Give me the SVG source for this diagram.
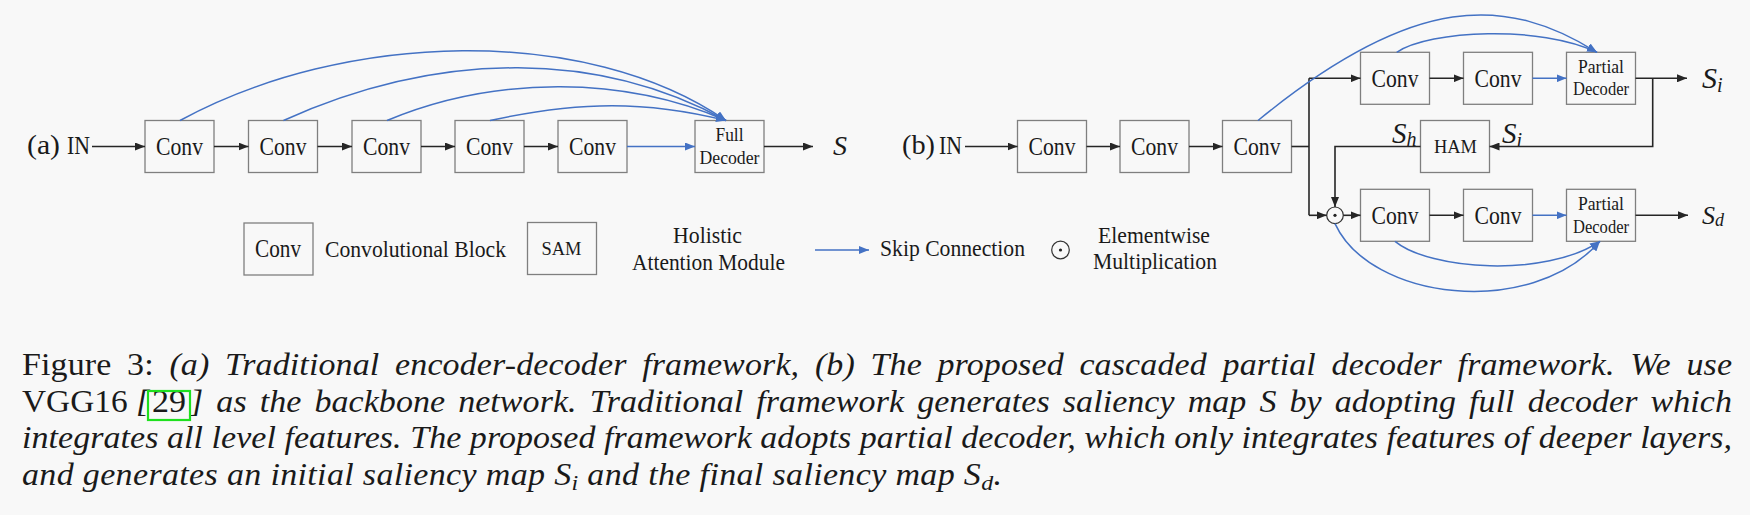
<svg xmlns="http://www.w3.org/2000/svg" width="1750" height="515" viewBox="0 0 1750 515" font-family="Liberation Serif, Times New Roman, serif">
<style>
.box{fill:none;stroke:#7f7f7f;stroke-width:1.3}
.ln{fill:none;stroke:#262626;stroke-width:1.6}
.bl{fill:none;stroke:#4472c4;stroke-width:1.5}
.t{font-family:'Liberation Serif','Times New Roman',Times,serif;fill:#1a1a1a}
.i{font-style:italic}
.cv{font-size:26px}
.pd{font-size:19px}
.lg{font-size:23px}
.cap{font-size:34px}
</style>
<defs>
<marker id="ak" viewBox="0 0 10 8" refX="10" refY="4" markerWidth="10" markerHeight="8" markerUnits="userSpaceOnUse" orient="auto"><path d="M0,0 L10,4 L0,8 z" fill="#262626"/></marker>
<marker id="ab" viewBox="0 0 10 8" refX="10" refY="4" markerWidth="10" markerHeight="8" markerUnits="userSpaceOnUse" orient="auto"><path d="M0,0 L10,4 L0,8 z" fill="#4472c4"/></marker>
</defs>
<rect x="0" y="0" width="1750" height="515" fill="#f8f8f8"/>

<!-- (a) -->
<text class="t" x="27" y="154" font-size="27" textLength="33" lengthAdjust="spacingAndGlyphs">(a)</text>
<text class="t" x="67" y="154" font-size="25" textLength="23" lengthAdjust="spacingAndGlyphs">IN</text>
<g id="a-conv1"><rect class="box" x="145" y="120.5" width="69" height="52"/><text class="t cv" x="156" y="155" textLength="47" lengthAdjust="spacingAndGlyphs">Conv</text></g>
<g id="a-conv2"><rect class="box" x="248.5" y="120.5" width="69" height="52"/><text class="t cv" x="259.5" y="155" textLength="47" lengthAdjust="spacingAndGlyphs">Conv</text></g>
<g id="a-conv3"><rect class="box" x="352" y="120.5" width="69" height="52"/><text class="t cv" x="363" y="155" textLength="47" lengthAdjust="spacingAndGlyphs">Conv</text></g>
<g id="a-conv4"><rect class="box" x="455" y="120.5" width="69" height="52"/><text class="t cv" x="466" y="155" textLength="47" lengthAdjust="spacingAndGlyphs">Conv</text></g>
<g id="a-conv5"><rect class="box" x="558" y="120.5" width="69" height="52"/><text class="t cv" x="569" y="155" textLength="47" lengthAdjust="spacingAndGlyphs">Conv</text></g>
<g id="a-fulldecoder"><rect class="box" x="695" y="120.5" width="69" height="52"/>
<text class="t pd" x="715.5" y="140.7" textLength="28" lengthAdjust="spacingAndGlyphs">Full</text>
<text class="t pd" x="699.5" y="164" textLength="60" lengthAdjust="spacingAndGlyphs">Decoder</text></g>
<text class="t i" x="833" y="155" font-size="28">S</text>

<!-- (b) -->
<text class="t" x="902" y="154" font-size="27" textLength="33" lengthAdjust="spacingAndGlyphs">(b)</text>
<text class="t" x="939" y="154" font-size="25" textLength="23" lengthAdjust="spacingAndGlyphs">IN</text>
<g id="b-conv1"><rect class="box" x="1017.5" y="120.5" width="69" height="52"/><text class="t cv" x="1028.5" y="155" textLength="47" lengthAdjust="spacingAndGlyphs">Conv</text></g>
<g id="b-conv2"><rect class="box" x="1120" y="120.5" width="69" height="52"/><text class="t cv" x="1131" y="155" textLength="47" lengthAdjust="spacingAndGlyphs">Conv</text></g>
<g id="b-conv3"><rect class="box" x="1222.5" y="120.5" width="69" height="52"/><text class="t cv" x="1233.5" y="155" textLength="47" lengthAdjust="spacingAndGlyphs">Conv</text></g>
<g id="b-conv4"><rect class="box" x="1360.5" y="52.3" width="69" height="52"/><text class="t cv" x="1371.5" y="86.8" textLength="47" lengthAdjust="spacingAndGlyphs">Conv</text></g>
<g id="b-conv5"><rect class="box" x="1463.5" y="52.3" width="69" height="52"/><text class="t cv" x="1474.5" y="86.8" textLength="47" lengthAdjust="spacingAndGlyphs">Conv</text></g>
<g id="b-pd1"><rect class="box" x="1566.5" y="52.3" width="69" height="52"/>
<text class="t pd" x="1578" y="72.7" textLength="46" lengthAdjust="spacingAndGlyphs">Partial</text>
<text class="t pd" x="1573" y="95" textLength="56" lengthAdjust="spacingAndGlyphs">Decoder</text></g>
<g id="b-ham"><rect class="box" x="1420.5" y="120.5" width="69" height="52"/><text class="t" x="1434" y="153" font-size="19" textLength="43" lengthAdjust="spacingAndGlyphs">HAM</text></g>
<g id="b-mult"><circle cx="1335" cy="215.3" r="8.3" fill="none" stroke="#333" stroke-width="1.2"/><circle cx="1335" cy="215.3" r="1.6" fill="#222"/></g>
<g id="b-conv6"><rect class="box" x="1360.5" y="189.3" width="69" height="52"/><text class="t cv" x="1371.5" y="223.8" textLength="47" lengthAdjust="spacingAndGlyphs">Conv</text></g>
<g id="b-conv7"><rect class="box" x="1463.5" y="189.3" width="69" height="52"/><text class="t cv" x="1474.5" y="223.8" textLength="47" lengthAdjust="spacingAndGlyphs">Conv</text></g>
<g id="b-pd2"><rect class="box" x="1566.5" y="189.3" width="69" height="52"/>
<text class="t pd" x="1578" y="210" textLength="46" lengthAdjust="spacingAndGlyphs">Partial</text>
<text class="t pd" x="1573" y="232.5" textLength="56" lengthAdjust="spacingAndGlyphs">Decoder</text></g>
<text class="t i" x="1702" y="88" font-size="30">S<tspan font-size="20" dy="4">i</tspan></text>
<text class="t i" x="1502" y="143" font-size="29">S<tspan font-size="20" dy="4">i</tspan></text>
<text class="t i" x="1392" y="143" font-size="29">S<tspan font-size="20" dy="3">h</tspan></text>
<text class="t i" x="1702" y="224" font-size="26">S<tspan font-size="18" dy="2">d</tspan></text>

<!-- connectors -->
<g id="connectors">
<path class="ln" d="M92,146.5 H145" marker-end="url(#ak)"/>
<path class="ln" d="M214,146.5 H248.5" marker-end="url(#ak)"/>
<path class="ln" d="M317.5,146.5 H352" marker-end="url(#ak)"/>
<path class="ln" d="M421,146.5 H455" marker-end="url(#ak)"/>
<path class="ln" d="M524,146.5 H558" marker-end="url(#ak)"/>
<path class="bl" d="M627,146.5 H695" marker-end="url(#ab)"/>
<path class="ln" d="M764,146.5 H813" marker-end="url(#ak)"/>
<path class="bl" d="M180,120.5 C345,30.8 586,24.1 726,120.5" marker-end="url(#ab)"/>
<path class="bl" d="M283.5,120.5 C443.5,48.7 601,51.9 726,120.5" marker-end="url(#ab)"/>
<path class="bl" d="M387,120.5 C497,74.5 626,76.7 726,120.5" marker-end="url(#ab)"/>
<path class="bl" d="M490,120.5 C580,100.9 646,100.7 726,120.5" marker-end="url(#ab)"/>

<path class="ln" d="M965,146.5 H1017.5" marker-end="url(#ak)"/>
<path class="ln" d="M1086.5,146.5 H1120" marker-end="url(#ak)"/>
<path class="ln" d="M1189,146.5 H1222.5" marker-end="url(#ak)"/>
<path class="ln" d="M1291.5,146.5 H1309"/>
<path class="ln" d="M1309,78.3 V215.3"/>
<path class="ln" d="M1309,78.3 H1360.5" marker-end="url(#ak)"/>
<path class="ln" d="M1309,215.3 H1326.7" marker-end="url(#ak)"/>
<path class="ln" d="M1343.3,215.3 H1360.5" marker-end="url(#ak)"/>
<path class="ln" d="M1429.5,78.3 H1463.5" marker-end="url(#ak)"/>
<path class="bl" d="M1532.5,78.3 H1566.5" marker-end="url(#ab)"/>
<path class="ln" d="M1635.5,78.3 H1687" marker-end="url(#ak)"/>
<path class="ln" d="M1652.7,78.3 V146.5 H1489.5" marker-end="url(#ak)"/>
<path class="ln" d="M1420.5,146.5 H1335 V207" marker-end="url(#ak)"/>
<path class="ln" d="M1429.5,215.3 H1463.5" marker-end="url(#ak)"/>
<path class="bl" d="M1532.5,215.3 H1566.5" marker-end="url(#ab)"/>
<path class="ln" d="M1635.5,215.3 H1688" marker-end="url(#ak)"/>
<path class="bl" d="M1258,120.5 C1415,-8 1507,-4 1597,52.3" marker-end="url(#ab)"/>
<path class="bl" d="M1396.7,52.3 C1430,30 1540,25 1597,52.3" marker-end="url(#ab)"/>
<path class="bl" d="M1395,241.3 C1430,270 1545,278 1600,241.3" marker-end="url(#ab)"/>
<path class="bl" d="M1335,223.6 C1370,300 1530,320 1600,241.3" marker-end="url(#ab)"/>
</g>

<!-- legend -->
<g id="legend">
<rect class="box" x="244" y="223" width="69" height="52"/>
<text class="t" x="255" y="257" font-size="25" textLength="46" lengthAdjust="spacingAndGlyphs">Conv</text>
<text class="t" x="325" y="257" font-size="24" textLength="181" lengthAdjust="spacingAndGlyphs">Convolutional Block</text>
<rect class="box" x="527.5" y="222.5" width="69" height="52"/>
<text class="t" x="541.5" y="254.5" font-size="19" textLength="40" lengthAdjust="spacingAndGlyphs">SAM</text>
<text class="t lg" x="673" y="243" textLength="69" lengthAdjust="spacingAndGlyphs">Holistic</text>
<text class="t lg" x="632" y="270" textLength="153" lengthAdjust="spacingAndGlyphs">Attention Module</text>
<path class="bl" d="M815,250 H869" marker-end="url(#ab)"/>
<text class="t" x="880" y="256" font-size="24" textLength="145" lengthAdjust="spacingAndGlyphs">Skip Connection</text>
<circle cx="1060.5" cy="250" r="8.8" fill="none" stroke="#333" stroke-width="1.2"/>
<circle cx="1060.5" cy="250" r="1.6" fill="#222"/>
<text class="t lg" x="1098" y="243" textLength="112" lengthAdjust="spacingAndGlyphs">Elementwise</text>
<text class="t lg" x="1093" y="268.5" textLength="124" lengthAdjust="spacingAndGlyphs">Multiplication</text>
</g>

<!-- caption -->
<g id="caption" transform="scale(1,0.9)" font-family="Liberation Serif, serif">
<text class="t cap" x="22" y="416.7" word-spacing="7" textLength="1710" lengthAdjust="spacing">Figure 3: <tspan class="i">(a) Traditional encoder-decoder framework, (b) The proposed cascaded partial decoder framework. We use</tspan></text>
<text class="t cap" x="22" y="457.4" textLength="127" lengthAdjust="spacingAndGlyphs">VGG16 <tspan class="i">[</tspan></text>
<text class="t cap" x="152" y="457.4" textLength="34" lengthAdjust="spacingAndGlyphs">29</text>
<text class="t cap i" x="190" y="457.4" word-spacing="4.5" textLength="1542" lengthAdjust="spacing">] as the backbone network. Traditional framework generates saliency map S by adopting full decoder which</text>
<text class="t cap i" x="22" y="498.1" textLength="1710" lengthAdjust="spacing">integrates all level features. The proposed framework adopts partial decoder, which only integrates features of deeper layers,</text>
<text class="t cap i" x="22" y="538.9" textLength="980" lengthAdjust="spacing">and generates an initial saliency map S<tspan font-size="24" dy="6">i</tspan><tspan dy="-6"> and the final saliency map S</tspan><tspan font-size="24" dy="6">d</tspan><tspan dy="-6">.</tspan></text>
</g>
<rect x="148" y="391" width="42" height="29" fill="none" stroke="#1ee01e" stroke-width="2.2"/>
</svg>
